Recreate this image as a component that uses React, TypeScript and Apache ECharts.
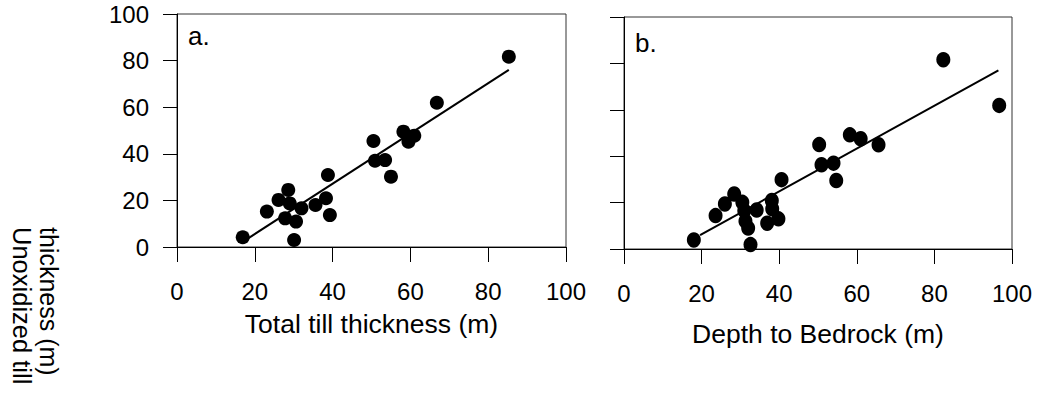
import React, { useEffect, useRef } from "react";
import * as echarts from "echarts";

const xTicks = [0, 20, 40, 60, 80, 100];
const yTicks = [0, 20, 40, 60, 80, 100];

// Panel a: Total till thickness (m) vs Unoxidized till thickness (m)
const totalTill = [16.9, 30.1, 23.1, 26.1, 28.6, 27.8, 30.6, 29.0, 32.0, 35.6, 38.3, 39.3, 38.8, 50.5, 50.9, 53.5, 55.0, 58.2, 59.5, 61.0, 66.8, 85.3];
const unoxA = [4.2, 3.0, 15.2, 20.2, 24.5, 12.3, 10.9, 18.7, 16.6, 18.0, 20.9, 13.7, 30.9, 45.5, 37.0, 37.3, 30.2, 49.5, 45.2, 47.8, 61.9, 81.7];
const fitAx = [17.9, 85.3];
const fitAy = [3.3, 76.0];

// Panel b: Depth to Bedrock (m) vs Unoxidized till thickness (m)
const depthBedrock = [18.0, 32.6, 23.6, 26.0, 28.4, 30.5, 31.0, 31.3, 32.0, 34.2, 36.9, 38.1, 38.2, 39.8, 40.6, 50.3, 50.9, 54.0, 54.7, 58.2, 61.0, 65.6, 82.3, 96.7];
const unoxB = [3.9, 1.9, 14.4, 19.4, 23.7, 20.1, 16.5, 12.0, 9.0, 16.8, 11.1, 20.9, 17.3, 13.0, 29.9, 45.0, 36.3, 37.0, 29.5, 49.2, 47.5, 44.9, 81.6, 61.9];
const fitBx = [19.6, 96.5];
const fitBy = [6.0, 77.0];

const FONT = "'Liberation Sans', Arial, Helvetica, sans-serif";

const zip = (xs: number[], ys: number[]) => xs.map((x, i) => [x, ys[i]]);

export default function App() {
  const ref = useRef<HTMLDivElement>(null);
  useEffect(() => {
    if (!ref.current) return;
    const chart = echarts.init(ref.current, undefined, { renderer: "svg" });
    const xAxisBase = (gridIndex: number, name: string, nameGap: number) => ({
      gridIndex,
      type: "value",
      min: xTicks[0],
      max: xTicks[xTicks.length - 1],
      interval: xTicks[1] - xTicks[0],
      axisLine: { show: true, onZero: false, lineStyle: { color: "#000", width: 1 } },
      axisTick: { show: true, length: 15, lineStyle: { color: "#000", width: 1 } },
      axisLabel: { fontSize: 24, color: "#000", margin: 32, fontFamily: FONT },
      splitLine: { show: false },
      name,
      nameLocation: "middle",
      nameGap,
      nameTextStyle: { fontSize: 26.5, color: "#000", fontFamily: FONT },
    });
    const yAxisBase = (gridIndex: number, showLabel: boolean) => ({
      gridIndex,
      type: "value",
      min: yTicks[0],
      max: yTicks[yTicks.length - 1],
      interval: yTicks[1] - yTicks[0],
      axisLine: { show: true, onZero: false, lineStyle: { color: "#000", width: 1 } },
      axisTick: { show: true, length: 14, lineStyle: { color: "#000", width: 1 } },
      axisLabel: { show: showLabel, fontSize: 24, color: "#000", margin: 28, fontFamily: FONT },
      splitLine: { show: false },
    });
    const option = {
      animation: false,
      backgroundColor: "#fff",
      grid: [
        { left: 177, top: 14, width: 389, height: 233, show: true, borderColor: "#333", borderWidth: 1, backgroundColor: "transparent" },
        { left: 624, top: 17, width: 388, height: 232, show: true, borderColor: "#333", borderWidth: 1, backgroundColor: "transparent" },
      ],
      xAxis: [xAxisBase(0, "Total till thickness (m)", 63), xAxisBase(1, "Depth to Bedrock (m)", 71)],
      yAxis: [yAxisBase(0, true), yAxisBase(1, false)],
      series: [
        {
          type: "line",
          xAxisIndex: 0,
          yAxisIndex: 0,
          data: zip(fitAx, fitAy),
          showSymbol: false,
          lineStyle: { color: "#000", width: 2 },
          silent: true,
        },
        {
          type: "scatter",
          xAxisIndex: 0,
          yAxisIndex: 0,
          data: zip(totalTill, unoxA),
          symbol: "circle",
          symbolSize: [14, 14],
          itemStyle: { color: "#000", opacity: 1 },
        },
        {
          type: "line",
          xAxisIndex: 1,
          yAxisIndex: 1,
          data: zip(fitBx, fitBy),
          showSymbol: false,
          lineStyle: { color: "#000", width: 2 },
          silent: true,
        },
        {
          type: "scatter",
          xAxisIndex: 1,
          yAxisIndex: 1,
          data: zip(depthBedrock, unoxB),
          symbol: "circle",
          symbolSize: [14, 15.5],
          itemStyle: { color: "#000", opacity: 1 },
        },
      ],
      graphic: [
        { type: "text", x: 188, y: 36, style: { text: "a.", fontSize: 26, fontFamily: FONT, fill: "#000", textAlign: "left", textVerticalAlign: "middle" } },
        { type: "text", x: 635, y: 43, style: { text: "b.", fontSize: 26, fontFamily: FONT, fill: "#000", textAlign: "left", textVerticalAlign: "middle" } },
        { type: "text", x: 49, y: 227, rotation: -Math.PI / 2, style: { text: "thickness (m)", fontSize: 25, fontFamily: FONT, fill: "#000", textAlign: "left", textVerticalAlign: "middle" } },
        { type: "text", x: 22, y: 227, rotation: -Math.PI / 2, style: { text: "Unoxidized till", fontSize: 25.5, fontFamily: FONT, fill: "#000", textAlign: "left", textVerticalAlign: "middle" } },
      ],
    };
    chart.setOption(option as any);
    return () => chart.dispose();
  }, []);
  return (
    <div
      ref={ref}
      style={{ position: "fixed", left: 0, top: 0, width: 1039, height: 400, background: "#fff" }}
    />
  );
}
